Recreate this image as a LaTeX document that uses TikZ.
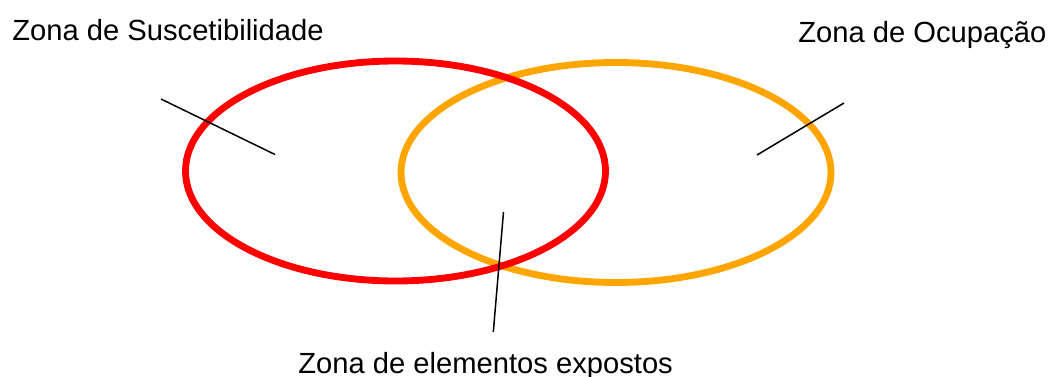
\documentclass[tikz,border=0pt]{standalone}
\usepackage{fontspec}
\setmainfont{Liberation Sans}
\usepackage{tikz}
\usetikzlibrary{positioning}
\usepackage{xcolor}
\definecolor{zsred}{RGB}{255,0,0}
\definecolor{zoorange}{RGB}{255,165,0}
\tikzstyle{zone} = [line width=3.9pt]
\tikzstyle{leader} = [line width=0.85pt, color=black]
\tikzstyle{zonelabel} = [inner sep=0pt, anchor=base west, font=\fontsize{16.6pt}{19pt}\selectfont]

\begin{document}
\begin{tikzpicture}[x=0.02cm, y=-0.02cm]
\useasboundingbox (0,0) rectangle (1052,376);

% Zones
\draw[zone, zoorange] (616,172.5) ellipse (215 and 110);
\draw[zone, zsred] (395.5,171) ellipse (210 and 110);

% Labels
\node (suscet) [zonelabel] at (12,40) {Zona de Suscetibilidade};
\node (ocup) [zonelabel] at (798,42.5) {Zona de Ocupação};
\node (expost) [zonelabel] at (298,373.5) {Zona de elementos expostos};

% Leader ends
\coordinate (suscetA) at (161,99);
\coordinate (suscetB) at (275,154.5);
\coordinate (ocupA) at (844,103);
\coordinate (ocupB) at (757,155);
\coordinate (expostA) at (503.5,212);
\coordinate (expostB) at (493.3,332);

% Leaders
\draw[leader] (suscetA) -- (suscetB);
\draw[leader] (ocupA) -- (ocupB);
\draw[leader] (expostA) -- (expostB);
\end{tikzpicture}
\end{document}
